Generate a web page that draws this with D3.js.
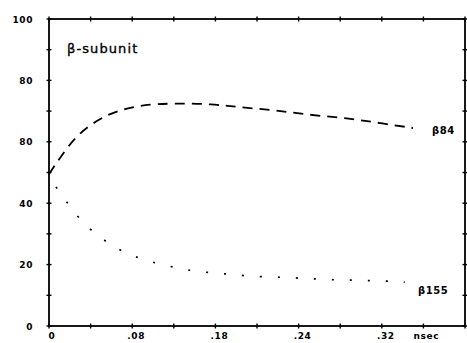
<!DOCTYPE html>
<html><head><meta charset="utf-8">
<script src="https://cdn.jsdelivr.net/npm/d3@7"></script>
<style>
body{margin:0;background:#fff;}
svg{display:block;}
.tl{font-family:"DejaVu Sans",sans-serif;font-weight:bold;font-size:9px;letter-spacing:0.6px;fill:#000;}
</style></head>
<body><svg id="c" width="467" height="343"></svg>
<script>
// data
const yTickValues = [0, 20, 40, 60, 80, 100];
const yTickLabels = ["0", "20", "40", "80", "80", "100"];
const xTickValues = [0, 0.08, 0.16, 0.24, 0.32, 0.36];
const xTickLabels = ["0", ".08", ".18", ".24", ".32", "nsec"];
const b84x = [0, 0.011, 0.027, 0.049, 0.068, 0.09, 0.119, 0.158, 0.181, 0.215, 0.251, 0.287, 0.318, 0.35];
const b84y = [49.5, 55, 62.4, 67.7, 70.4, 72, 72.6, 72.3, 71.3, 70.4, 68.7, 67.7, 66.1, 64.5];
const b155x = [0, 0.011, 0.022, 0.0375, 0.055, 0.071, 0.089, 0.106, 0.123, 0.139, 0.157, 0.173, 0.189, 0.206, 0.224, 0.24, 0.258, 0.275, 0.291, 0.309, 0.325, 0.342];
const b155y = [48, 43.6, 37.8, 31.9, 27.4, 24.1, 21.8, 20.2, 18.9, 17.9, 17.3, 16.9, 16.3, 16.0, 15.9, 15.6, 15.3, 15.0, 15.0, 14.7, 14.7, 14.3];

const svg = d3.select("#c");
const x = d3.scaleLinear().domain([0, 0.4]).range([49, 465]);
const y = d3.scaleLinear().domain([0, 100]).range([326, 19]);

const minorX = d3.range(0, 0.4001, 0.04);
const minorY = d3.range(0, 100.1, 10);

// frame
svg.append("rect").attr("x", x(0)).attr("y", y(100))
  .attr("width", x(0.4) - x(0)).attr("height", y(0) - y(100))
  .attr("fill", "none").attr("stroke", "#000").attr("stroke-width", 1.8);

// cross ticks
const tk = 2.5;
minorX.forEach(v => {
  [y(0), y(100)].forEach(yy => {
    svg.append("line").attr("x1", x(v)).attr("x2", x(v)).attr("y1", yy - tk).attr("y2", yy + tk)
      .attr("stroke", "#000").attr("stroke-width", 1.4);
  });
});
minorY.forEach(v => {
  [x(0), x(0.4)].forEach(xx => {
    svg.append("line").attr("y1", y(v)).attr("y2", y(v)).attr("x1", xx - tk).attr("x2", xx + tk)
      .attr("stroke", "#000").attr("stroke-width", 1.4);
  });
});

// y labels
yTickValues.forEach((v, i) => {
  svg.append("text").attr("class", "tl").attr("x", 33).attr("y", y(v) + 1)
    .attr("text-anchor", "end").attr("dominant-baseline", "middle").text(yTickLabels[i]);
});
// x labels
xTickValues.forEach((v, i) => {
  const off = i === 0 ? 3 : (i === 5 ? 3 : 4);
  svg.append("text").attr("class", "tl").attr("x", x(v) + off).attr("y", 339)
    .attr("text-anchor", "middle").text(xTickLabels[i]);
});

const line = d3.line().x(d => x(d[0])).y(d => y(d[1])).curve(d3.curveBasis);

svg.append("path").datum(b84x.map((v, i) => [v, b84y[i]]))
  .attr("d", line).attr("fill", "none").attr("stroke", "#000")
  .attr("stroke-width", 1.8).attr("stroke-dasharray", "10,7");

svg.append("path").datum(b155x.map((v, i) => [v, b155y[i]]))
  .attr("d", line).attr("fill", "none").attr("stroke", "#000")
  .attr("stroke-width", 1.7).attr("stroke-dasharray", "2,16").attr("stroke-dashoffset", -11);

svg.append("text").attr("x", 67).attr("y", 53)
  .style("font-family", "DejaVu Sans, sans-serif").style("font-size", "13px").style("letter-spacing", "1.1px")
  .style("stroke", "#000").style("stroke-width", "0.35px")
  .text("β-subunit");

svg.append("text").attr("class", "tl").style("font-size", "10px").attr("x", 432).attr("y", 134).text("β84");
svg.append("text").attr("class", "tl").style("font-size", "10px").attr("x", 418).attr("y", 294).text("β155");
</script></body></html>
